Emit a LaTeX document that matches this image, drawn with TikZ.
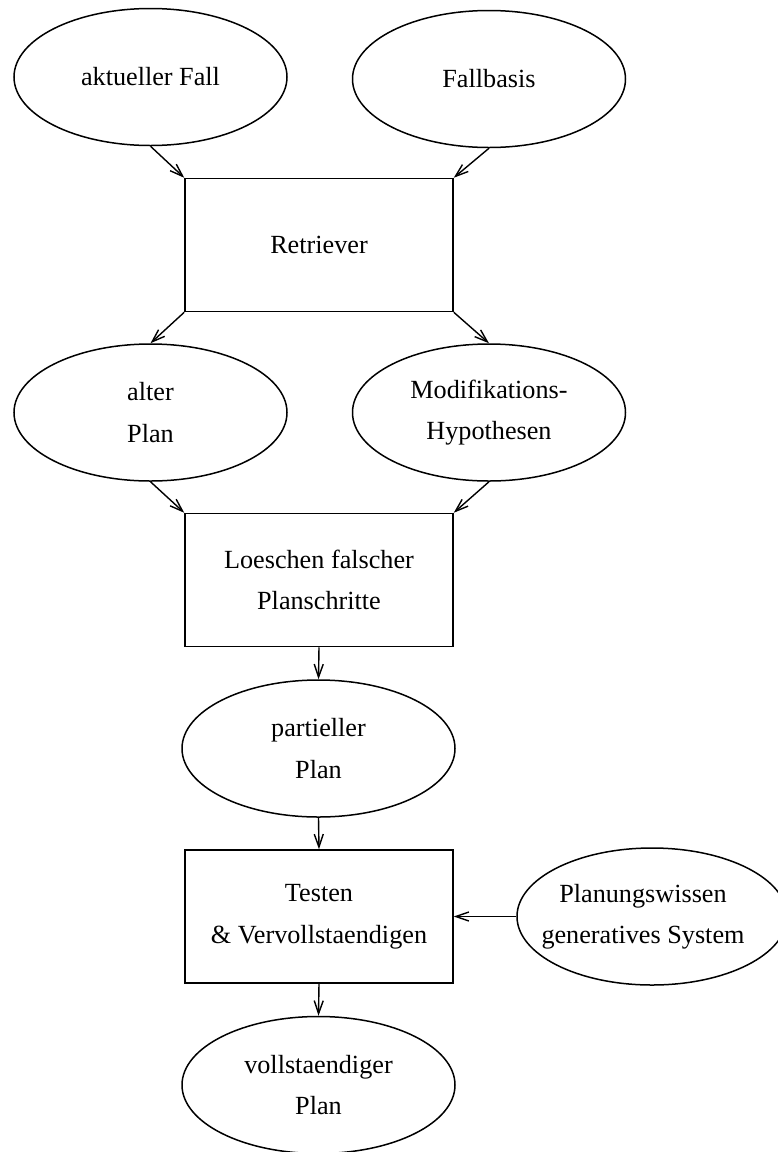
\documentclass[tikz,border=0pt]{standalone}
\usepackage{fontspec}
\setmainfont{Liberation Serif}
\usetikzlibrary{shapes.geometric,arrows.meta}
\tikzset{
  every node/.style={font=\fontsize{26.2}{41.5}\selectfont, align=center, inner sep=0pt},
  data/.style={ellipse, draw, line width=1.5pt, minimum width=273pt, minimum height=137pt},
  proc/.style={rectangle, draw, line width=1.5pt, minimum width=268pt, minimum height=133pt},
  flow/.style={line width=1.4pt, -{Straight Barb[length=13pt,width=9pt,line width=1.4pt]}}
}
\begin{document}
\begin{tikzpicture}[x=1pt,y=-1pt]
\useasboundingbox (0,0) rectangle (778,1152);
% top inputs
\node[data] (akt) at (150.5,77) {aktueller Fall};
\node[data] (fb)  at (489,79) {Fallbasis};
\node[proc] (ret) at (319,245) {Retriever};
% retrieved results
\node[data] (alt) at (150.5,412.5) {alter\\Plan};
\node[data] (mod) at (489,412.5) {Modifikations-\\Hypothesen};
\node[proc] (del) at (319,580) {Loeschen falscher\\Planschritte};
\node[data] (part) at (318.5,748.5) {partieller\\Plan};
\node[proc] (test) at (319,916.5) {Testen\\\& Vervollstaendigen};
% generative planner, its outline runs past the right border
\node[data, minimum width=270pt] (gen) at (652,916.5) {};
\node (gentext) at (643,916.5) {Planungswissen\\generatives System};
\node[data] (voll) at (318.5,1085) {vollstaendiger\\Plan};
% connectors
\draw[flow] (akt.south) -- (ret.north west);
\draw[flow] (fb.south) -- (ret.north east);
\draw[flow] (ret.south west) -- (alt.north);
\draw[flow] (ret.south east) -- (mod.north);
\draw[flow] (alt.south) -- (del.north west);
\draw[flow] (mod.south) -- (del.north east);
\draw[flow] (del.south) -- (part.north);
\draw[flow] (part.south) -- (test.north);
\draw[flow] (gen.west) -- (test.east);
\draw[flow] (test.south) -- (voll.north);
\end{tikzpicture}
\end{document}
